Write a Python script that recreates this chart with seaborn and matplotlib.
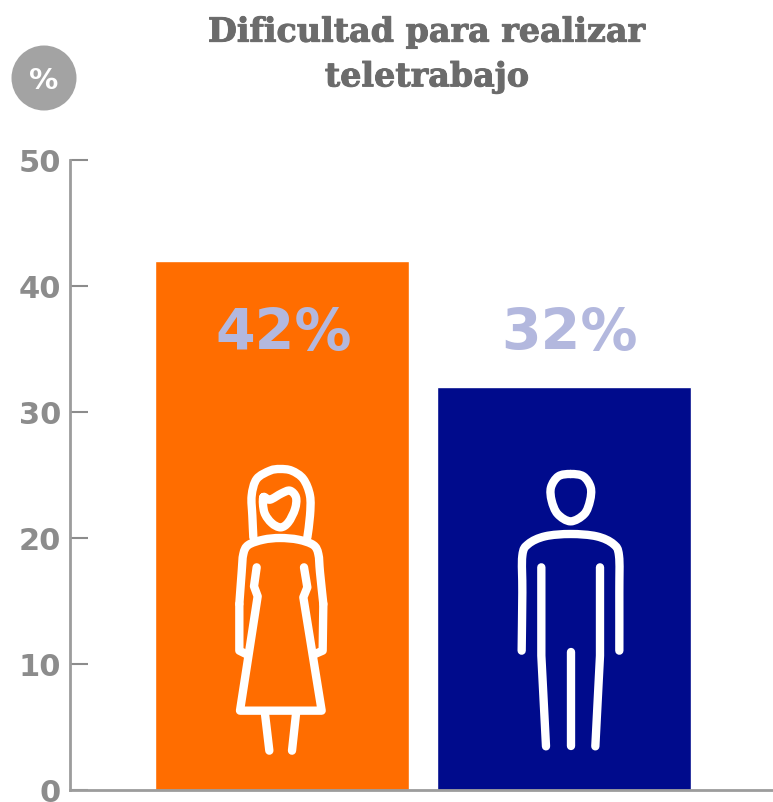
import matplotlib
matplotlib.use('Agg')
import pandas as pd
import seaborn as sns
import matplotlib.pyplot as plt
import matplotlib.patheffects as pe
from matplotlib.path import Path
from matplotlib.patches import PathPatch, Circle

generos = ['Mujeres', 'Hombres']
valores = [42, 32]
colores = ['#ff6d00', '#000b8c']
ticks = [0, 10, 20, 30, 40, 50]
titulo = 'Dificultad para realizar\nteletrabajo'

W, H = 773, 803
GRIS = '#8c8c8c'
LW = 6.0


def trazo(ax, pts, off, cerrado=False):
    p = [(off[0] + x / 3, off[1] + y / 3) for x, y in pts]
    n = len(p)
    if cerrado:
        idx = lambda i: p[i % n]
        tramos = n
    else:
        idx = lambda i: p[max(0, min(n - 1, i))]
        tramos = n - 1
    v = [p[0]]
    c = [Path.MOVETO]
    for i in range(tramos):
        a, b, d, e = idx(i - 1), idx(i), idx(i + 1), idx(i + 2)
        c1 = (b[0] + (d[0] - a[0]) / 6, b[1] + (d[1] - a[1]) / 6)
        c2 = (d[0] - (e[0] - b[0]) / 6, d[1] - (e[1] - b[1]) / 6)
        v += [c1, c2, d]
        c += [Path.CURVE4] * 3
    ax.add_patch(PathPatch(Path(v, c), fc='none', ec='white', lw=LW,
                           capstyle='round', joinstyle='round'))


def recta(ax, pts, off):
    p = [(off[0] + x / 3, off[1] + y / 3) for x, y in pts]
    c = [Path.MOVETO] + [Path.LINETO] * (len(p) - 1)
    ax.add_patch(PathPatch(Path(p, c), fc='none', ec='white', lw=LW,
                           capstyle='round', joinstyle='round'))


sns.set_theme(style='white')
fig = plt.figure(figsize=(W / 100, H / 100), dpi=100)
ax = fig.add_axes([70 / W, 1 - 791 / H, (W - 70) / W, 630 / H])

df = pd.DataFrame({'genero': generos, 'valor': valores})
sns.barplot(data=df, x='genero', y='valor', hue='genero', palette=colores,
            width=0.9, saturation=1, legend=False, ax=ax)
ax.set_xlim(-0.7518, 1.741)
ax.set_ylim(0, 50)
ax.set_xlabel('')
ax.set_ylabel('')
ax.set_xticks([])
ax.set_yticks(ticks)
ax.tick_params(axis='y', left=True, direction='in', length=13, width=1.5, color=GRIS, pad=6.5,
               labelsize=22, labelcolor=GRIS)
for t in ax.get_yticklabels():
    t.set_fontweight('bold')
for lado in ['top', 'right']:
    ax.spines[lado].set_visible(False)
for lado in ['left', 'bottom']:
    ax.spines[lado].set_color('#9c9c9c')
    ax.spines[lado].set_linewidth(2)

# las etiquetas no van justo centradas en el original
for i, v in enumerate(valores):
    ax.annotate(f'{v}%', (i, 36.2), xytext=(1 + 3 * i, 0), textcoords='offset points',
                ha='center', va='center', fontsize=41, fontweight='bold', color='#b3b8de')

# capa en pixeles para titulo, circulo e iconos
capa = fig.add_axes([0, 0, 1, 1])
capa.set_xlim(0, W)
capa.set_ylim(H, 0)
capa.axis('off')
capa.patch.set_alpha(0)

capa.text(427, 55.5, titulo, ha='center', va='center', fontsize=24, fontweight='bold',
          family='DejaVu Serif', color='#6b6b6b', linespacing=1.45,
          path_effects=[pe.withStroke(linewidth=0.7, foreground='#6b6b6b')])
capa.add_patch(Circle((44, 79), 32.5, fc='#a3a3a3', ec='none'))
capa.text(44, 81, '%', ha='center', va='center', fontsize=21, fontweight='bold', color='white')

# mujer
m = (220, 460)
trazo(capa, [(100, 235), (97, 170), (95, 110), (110, 60), (150, 35), (180, 30), (215, 35),
             (250, 60), (270, 110), (270, 170), (262, 235)], m)
trazo(capa, [(130, 115), (150, 122), (185, 103), (210, 95), (228, 115), (225, 150), (205, 190),
             (182, 205), (155, 192), (133, 160)], m, cerrado=True)
trazo(capa, [(58, 435), (65, 340), (70, 285), (85, 258), (130, 242), (180, 237), (235, 242),
             (280, 258), (295, 285), (300, 340), (310, 435)], m)
recta(capa, [(58, 435), (58, 575), (78, 585)], m)
recta(capa, [(310, 435), (308, 575), (285, 585)], m)
recta(capa, [(110, 325), (102, 382), (113, 412), (60, 755), (305, 755), (250, 415), (262, 385),
             (252, 325)], m)
recta(capa, [(135, 765), (148, 875)], m)
recta(capa, [(228, 765), (216, 875)], m)

# hombre
h = (505, 460)
trazo(capa, [(197, 45), (235, 52), (257, 85), (255, 125), (238, 165), (197, 187), (158, 165),
             (140, 125), (138, 85), (160, 52)], h, cerrado=True)
trazo(capa, [(50, 575), (52, 400), (52, 290), (70, 255), (120, 232), (197, 225), (275, 232),
             (325, 255), (342, 290), (343, 400), (343, 575)], h)
recta(capa, [(109, 325), (109, 590), (123, 862)], h)
recta(capa, [(285, 325), (285, 590), (271, 862)], h)
recta(capa, [(197, 580), (197, 862)], h)

fig.savefig('out.png', dpi=100)
